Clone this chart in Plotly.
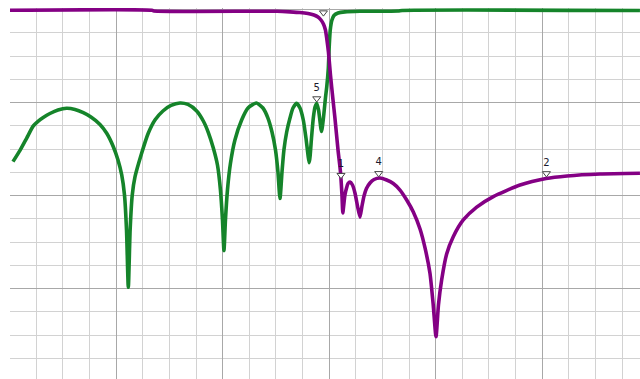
import plotly.graph_objects as go
import numpy as np

# S11 (green) - frequency (GHz) and magnitude (dB)
s11_freq = [0.031, 0.097, 0.160, 0.222, 0.266, 0.315, 0.378, 0.454, 0.535, 0.613, 0.691,
            0.763, 0.848, 0.911, 0.973, 1.017, 1.052, 1.078, 1.097, 1.114, 1.131,
            1.151, 1.177, 1.239, 1.301, 1.364, 1.439, 1.515, 1.599, 1.674, 1.756,
            1.818, 1.867, 1.912, 1.951, 1.979, 1.998, 2.012, 2.026, 2.045, 2.073,
            2.115, 2.178, 2.238, 2.317, 2.378, 2.425, 2.463, 2.496, 2.519, 2.538,
            2.557, 2.575, 2.601, 2.632, 2.660, 2.695, 2.726, 2.757, 2.782, 2.813,
            2.834, 2.851, 2.867, 2.883, 2.900, 2.928, 2.946, 2.965, 2.977, 2.992,
            3.001, 3.010, 3.026, 3.045, 3.083, 3.148, 3.289, 3.647, 3.685, 5.918]
s11_db = [-16.34, -15.13, -13.80, -12.50, -12.00, -11.59, -11.16, -10.78, -10.60, -10.73, -11.08,
          -11.54, -12.34, -13.29, -14.73, -16.16, -17.77, -19.92, -23.69, -29.85, -23.69,
          -19.92, -17.96, -15.44, -13.29, -11.86, -10.89, -10.30, -10.03, -10.19, -10.89,
          -11.97, -13.26, -14.87, -16.70, -19.39, -22.61, -25.90, -22.61, -19.39, -16.52,
          -14.01, -11.86, -10.57, -10.03, -10.57, -11.65, -13.15, -15.09, -17.45, -20.30,
          -17.45, -15.09, -13.15, -11.65, -10.57, -10.06, -10.57, -11.86, -13.80, -16.45,
          -13.80, -11.65, -10.46, -10.09, -10.78, -13.10, -11.65, -9.49, -8.31, -6.27,
          -3.80, -2.18, -1.11, -0.62, -0.35, -0.23, -0.17, -0.14, -0.08, -0.08]

# S21 (purple)
s21_freq = [0.003, 1.336, 1.355, 2.510, 2.632, 2.726, 2.801, 2.857, 2.895, 2.923,
            2.946, 2.965, 2.979, 2.993, 3.012, 3.036, 3.054, 3.083, 3.106, 3.120,
            3.128, 3.137, 3.148, 3.163, 3.177, 3.196, 3.219, 3.242, 3.266, 3.289,
            3.308, 3.327, 3.350, 3.383, 3.421, 3.477, 3.540, 3.602, 3.665, 3.728,
            3.790, 3.853, 3.900, 3.946, 3.977, 4.003, 4.026, 4.056, 4.103, 4.165,
            4.259, 4.385, 4.541, 4.792, 5.036, 5.233, 5.543, 5.918]
s21_db = [-0.06, -0.06, -0.14, -0.17, -0.23, -0.30, -0.41, -0.57, -0.78, -1.11,
          -1.54, -2.18, -3.26, -4.55, -7.02, -9.71, -11.65, -15.09, -17.45, -19.92,
          -21.85, -21.00, -19.92, -19.17, -18.69, -18.53, -18.85, -19.71, -21.11, -22.30,
          -21.11, -20.03, -19.23, -18.63, -18.26, -18.10, -18.31, -18.69, -19.39, -20.46,
          -21.75, -23.58, -25.62, -28.31, -31.75, -35.15, -31.75, -29.06, -26.27, -24.41,
          -22.61, -21.22, -20.09, -18.85, -18.15, -17.88, -17.67, -17.59]

# Markers: label, frequency, trace they sit on (top marker's label is out of view)
marker_labels = ["1", "2", "", "4", "5"]
marker_freq = [3.111, 5.040, 2.946, 3.465, 2.883]
marker_trace = ["s21", "s21", "s21top", "s21", "s11"]
top_marker_db = -0.85

GREEN = "#15842a"
PURPLE = "#840084"

fig = go.Figure()
fig.add_trace(go.Scatter(x=s11_freq, y=s11_db, mode="lines",
                         line=dict(color=GREEN, width=3.6, shape="spline", smoothing=0.6),
                         hoverinfo="skip"))
fig.add_trace(go.Scatter(x=s21_freq, y=s21_db, mode="lines",
                         line=dict(color=PURPLE, width=3.6, shape="spline", smoothing=0.6),
                         hoverinfo="skip"))

px_per_db = 9.3
offset_db = 5.0 / px_per_db
mx, my = [], []
for f, t in zip(marker_freq, marker_trace):
    if t == "s11":
        v = float(np.interp(f, s11_freq, s11_db))
    elif t == "s21":
        v = float(np.interp(f, s21_freq, s21_db))
    else:
        v = top_marker_db
    mx.append(f)
    my.append(v + offset_db)

fig.add_trace(go.Scatter(
    x=mx, y=my, mode="markers+text", text=marker_labels,
    textposition="top center",
    textfont=dict(family="DejaVu Sans", size=10, color="#1a1a2e"),
    marker=dict(symbol="triangle-down", size=7, color="white",
                line=dict(color="#444444", width=1)),
    cliponaxis=True, hoverinfo="skip"))

x_left = 0.003
x_right = x_left + 630 / 106.5
y_top = 1.7 / px_per_db
y_bottom = y_top - 371 / px_per_db

fig.update_layout(
    width=640, height=379,
    margin=dict(l=10, r=0, t=8, b=0, pad=0),
    paper_bgcolor="white", plot_bgcolor="white",
    showlegend=False,
    xaxis=dict(range=[x_left, x_right], tick0=0, dtick=1,
               showgrid=True, gridcolor="#a8a8a8", gridwidth=1,
               zeroline=False, showline=False, showticklabels=False, ticks="",
               minor=dict(tick0=0, dtick=0.25, showgrid=True,
                          gridcolor="#d2d2d2", gridwidth=1, ticks="")),
    yaxis=dict(range=[y_bottom, y_top], tick0=0, dtick=10,
               showgrid=True, gridcolor="#a8a8a8", gridwidth=1,
               zeroline=False, showline=False, showticklabels=False, ticks="",
               minor=dict(tick0=0, dtick=2.5, showgrid=True,
                          gridcolor="#d2d2d2", gridwidth=1, ticks="")),
)

fig.write_html("out.html", config={"displayModeBar": False},
               post_script="document.body.style.margin='0';document.body.style.overflow='hidden';")
